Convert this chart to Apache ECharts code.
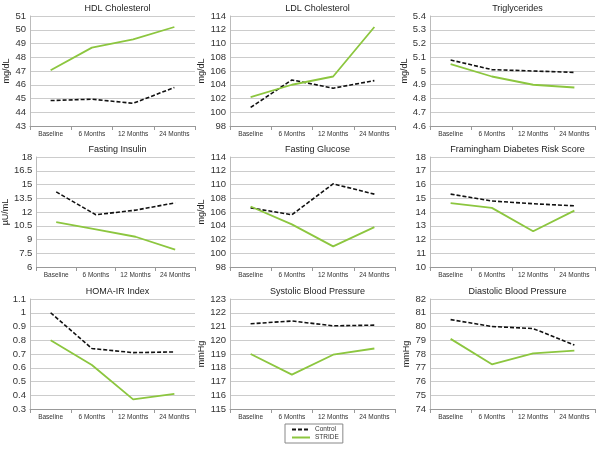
<!DOCTYPE html>
<html>
<head>
<meta charset="utf-8">
<script src="https://cdn.jsdelivr.net/npm/echarts@6/dist/echarts.min.js"></script>
<style>
  html, body { margin: 0; padding: 0; background: #fff; }
  #chart { width: 600px; height: 450px; }
</style>
</head>
<body>
<div id="chart"></div>
<script>
// time points
var timepoints = ['Baseline', '6 Months', '12 Months', '24 Months'];

// panel titles and units
var panelTitles = ['HDL Cholesterol', 'LDL Cholesterol', 'Triglycerides',
                   'Fasting Insulin', 'Fasting Glucose', 'Framingham Diabetes Risk Score',
                   'HOMA-IR Index', 'Systolic Blood Pressure', 'Diastolic Blood Pressure'];
var panelUnits = ['mg/dL', 'mg/dL', 'mg/dL', 'µU/mL', 'mg/dL', '', '', 'mmHg', 'mmHg'];

// y axis ranges [min, max, interval]
var yMin = [43, 98, 4.6, 6, 98, 10, 0.3, 115, 74];
var yMax = [51, 114, 5.4, 18, 114, 18, 1.1, 123, 82];
var yStep = [1, 2, 0.1, 1.5, 2, 1, 0.1, 1, 1];

// Control group
var hdlControl = [44.85, 44.95, 44.65, 45.8];
var ldlControl = [100.7, 104.7, 103.5, 104.6];
var trigControl = [5.08, 5.01, 5.0, 4.99];
var insulinControl = [14.2, 11.7, 12.2, 13.0];
var glucoseControl = [106.6, 105.6, 110.1, 108.6];
var framControl = [15.3, 14.8, 14.6, 14.45];
var homaControl = [1.0, 0.74, 0.71, 0.715];
var sbpControl = [121.2, 121.4, 121.05, 121.1];
var dbpControl = [80.5, 80.0, 79.85, 78.65];

// STRIDE group
var hdlStride = [47.05, 48.7, 49.3, 50.2];
var ldlStride = [102.2, 104.0, 105.2, 112.4];
var trigStride = [5.05, 4.96, 4.9, 4.88];
var insulinStride = [10.9, 10.1, 9.3, 7.9];
var glucoseStride = [106.8, 104.2, 101.0, 103.8];
var framStride = [14.65, 14.3, 12.6, 14.1];
var homaStride = [0.8, 0.62, 0.37, 0.41];
var sbpStride = [119.0, 117.5, 118.95, 119.4];
var dbpStride = [79.1, 77.25, 78.05, 78.25];

var controlData = [hdlControl, ldlControl, trigControl, insulinControl, glucoseControl,
                   framControl, homaControl, sbpControl, dbpControl];
var strideData = [hdlStride, ldlStride, trigStride, insulinStride, glucoseStride,
                  framStride, homaStride, sbpStride, dbpStride];

var colLeft = [30, 230, 430];
var rowTop = [16, 157, 299];
var plotW = 165, plotH = 110;
var font = 'Liberation Sans';

var titles = [], grids = [], xAxes = [], yAxes = [], series = [];
for (var i = 0; i < 9; i++) {
    var c = i % 3, r = Math.floor(i / 3);
    titles.push({
        text: panelTitles[i],
        left: colLeft[c] + plotW / 2,
        top: rowTop[r] - 17,
        textAlign: 'center',
        textStyle: { fontSize: 9, fontWeight: 'normal', color: '#222', fontFamily: font }
    });
    grids.push({ left: colLeft[c], top: rowTop[r], width: plotW, height: plotH });
    xAxes.push({
        type: 'category', gridIndex: i, data: timepoints, boundaryGap: true,
        axisLine: { lineStyle: { color: '#999' } },
        axisTick: { show: true, length: 4, lineStyle: { color: '#999' } },
        axisLabel: { fontSize: 6.5, color: '#333', margin: 5, interval: 0, fontFamily: font }
    });
    yAxes.push({
        type: 'value', gridIndex: i, min: yMin[i], max: yMax[i], interval: yStep[i],
        name: panelUnits[i], nameLocation: 'middle', nameGap: 19,
        nameTextStyle: { fontSize: 9, color: '#222', fontFamily: font },
        axisLine: { show: true, lineStyle: { color: '#bbb' } },
        axisTick: { show: false },
        splitLine: { lineStyle: { color: '#ccc' } },
        axisLabel: {
            fontSize: 9.5, color: '#333', margin: 4, fontFamily: font,
            formatter: function (v) { return String(Math.round(v * 100) / 100); }
        }
    });
    series.push({
        name: 'Control', type: 'line', xAxisIndex: i, yAxisIndex: i,
        data: controlData[i], symbol: 'none',
        lineStyle: { color: '#111', width: 1.6, type: [4, 2] },
        itemStyle: { color: '#111' }
    });
    series.push({
        name: 'STRIDE', type: 'line', xAxisIndex: i, yAxisIndex: i,
        data: strideData[i], symbol: 'none',
        lineStyle: { color: '#8cc63f', width: 1.8 },
        itemStyle: { color: '#8cc63f' }
    });
}

var chart = echarts.init(document.getElementById('chart'));
chart.setOption({
    animation: false,
    title: titles,
    grid: grids,
    xAxis: xAxes,
    yAxis: yAxes,
    legend: {
        data: ['Control', 'STRIDE'],
        orient: 'vertical',
        left: 285, top: 424,
        itemWidth: 18, itemHeight: 6, itemGap: 1,
        padding: [2, 4, 2, 6],
        borderColor: '#888', borderWidth: 1,
        itemStyle: { opacity: 0 },
        textStyle: { fontSize: 6.5, color: '#333', fontFamily: font }
    },
    series: series
});
</script>
</body>
</html>
